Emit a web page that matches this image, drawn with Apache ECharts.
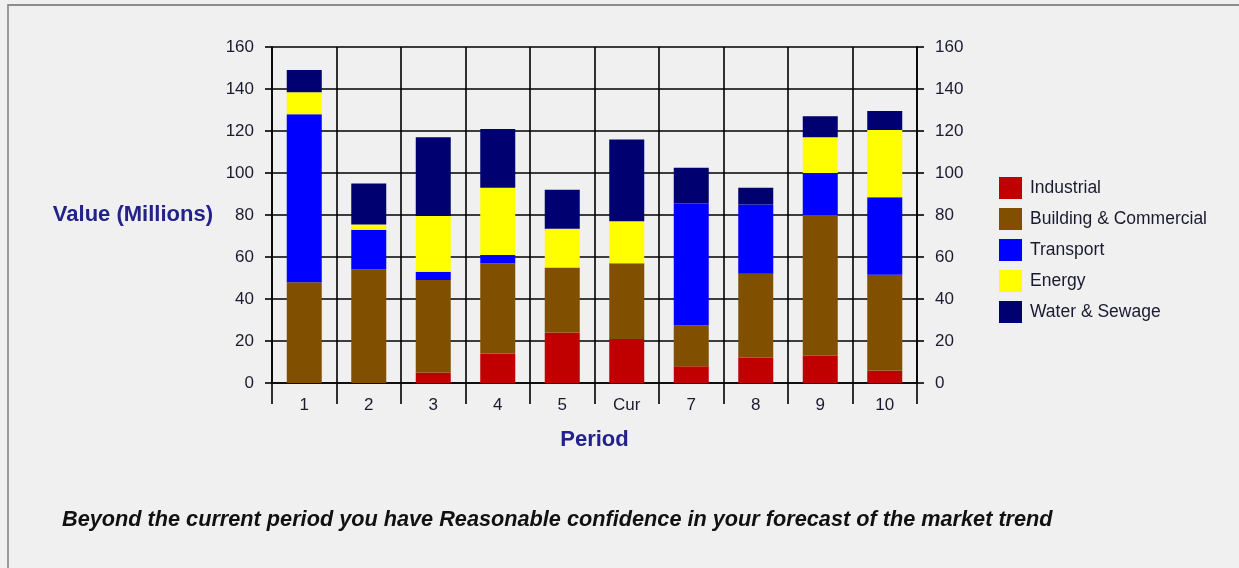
<!DOCTYPE html>
<html>
<head>
<meta charset="utf-8">
<script src="https://cdn.jsdelivr.net/npm/echarts@6/dist/echarts.min.js"></script>
<style>
  html, body { margin: 0; padding: 0; background: #f0f0f0; }
  #chart { position: absolute; left: 0; top: 0; width: 1239px; height: 568px; }
  #frame { position: absolute; left: 7px; top: 4px; width: 1240px; height: 600px;
           border-left: 2px solid #9a9a9a; border-top: 2px solid #8c8c8c; pointer-events: none; }
</style>
</head>
<body>
<div id="chart"></div>
<div id="frame"></div>
<script>
// Periods along the horizontal axis
const periods = ['1', '2', '3', '4', '5', 'Cur', '7', '8', '9', '10'];

// Market value by sector, in millions (stacked)
const industrial = [0, 0, 5, 14, 24, 21, 8, 12, 13, 6];
const building   = [48, 54, 44, 43, 31, 36, 19.5, 40, 67, 45.5];
const transport  = [80, 19, 4, 4, 0, 0, 58, 33, 20, 37];
const energy     = [10.5, 2.5, 26.5, 32, 18.5, 20, 0, 0, 17, 32];
const water      = [10.5, 19.5, 37.5, 28, 18.5, 39, 17, 8, 10, 9];

const sectorNames  = ['Industrial', 'Building & Commercial', 'Transport', 'Energy', 'Water & Sewage'];
const sectorColors = ['#c00000', '#805000', '#0000ff', '#ffff00', '#000070'];
const sectorValues = [industrial, building, transport, energy, water];

const FONT = '"Liberation Sans", Arial, sans-serif';
const LINE = { color: '#000', width: 1.6 };

const valueAxis = (pos, withName) => ({
  type: 'value',
  position: pos,
  min: 0, max: 160, interval: 20,
  name: withName ? 'Value (Millions)' : '',
  nameLocation: 'middle',
  nameRotate: 0,
  nameGap: 59,
  nameTextStyle: { fontFamily: FONT, fontSize: 22, fontWeight: 'bold', color: '#22228a' },
  axisLine: { show: true, lineStyle: LINE },
  axisTick: { show: true, length: 7, lineStyle: LINE },
  axisLabel: { margin: 18, fontFamily: FONT, fontSize: 17, color: '#1a1a30' },
  splitLine: { show: withName, lineStyle: LINE }
});

const chart = echarts.init(document.getElementById('chart'), null, { renderer: 'canvas' });
chart.setOption({
  backgroundColor: 'transparent',
  animation: false,
  grid: { left: 272, right: 322, top: 47, bottom: 185 },
  legend: {
    orient: 'vertical',
    left: 999, top: 177,
    padding: 0,
    itemWidth: 23, itemHeight: 22, itemGap: 9,
    icon: 'rect',
    data: sectorNames,
    textStyle: { fontFamily: FONT, fontSize: 17.5, color: '#1a1a30', padding: [0, 0, 0, 3] }
  },
  xAxis: {
    type: 'category',
    data: periods,
    name: 'Period',
    nameLocation: 'middle',
    nameGap: 46,
    nameTextStyle: { fontFamily: FONT, fontSize: 22, fontWeight: 'bold', color: '#22228a' },
    axisLine: { show: true, lineStyle: LINE },
    axisTick: { show: true, length: 21, lineStyle: LINE },
    axisLabel: { margin: 14, fontFamily: FONT, fontSize: 17, color: '#1a1a30' },
    splitLine: { show: true, lineStyle: LINE }
  },
  yAxis: [valueAxis('left', true), valueAxis('right', false)],
  series: sectorNames.map((name, i) => ({
    name,
    type: 'bar',
    stack: 'total',
    barWidth: 35,
    data: sectorValues[i],
    itemStyle: { color: sectorColors[i] }
  })),
  graphic: [{
    type: 'text',
    left: 62, top: 509,
    style: {
      text: 'Beyond the current period you have Reasonable confidence in your forecast of the market trend',
      font: 'italic bold 21.7px ' + FONT,
      fill: '#111'
    }
  }]
});
</script>
</body>
</html>
